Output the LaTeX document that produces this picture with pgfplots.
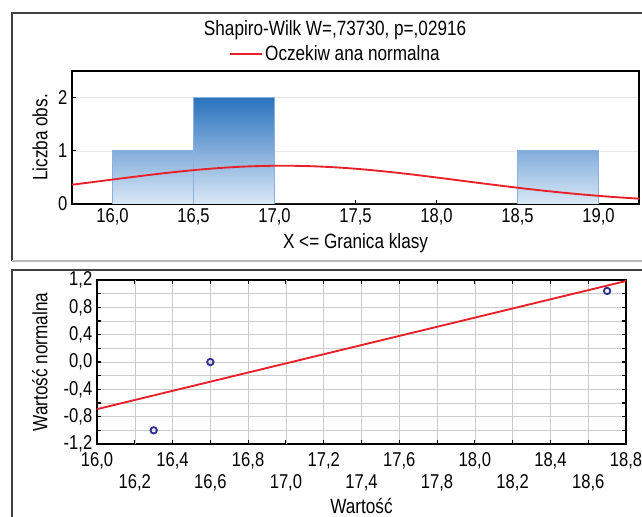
\documentclass[border=0pt]{standalone}
\usepackage{fontspec}
\setmainfont[FakeStretch=0.83]{Liberation Sans}
\usepackage{pgfplots}
\pgfplotsset{compat=1.18}

\definecolor{barTop}{HTML}{2A72BD}
\definecolor{barMid}{HTML}{6CA4DA}
\definecolor{barBot}{HTML}{DAE8F6}
\definecolor{barEdge}{HTML}{8AB0E0}
\definecolor{curveRed}{HTML}{E8202A}
\definecolor{pointBlue}{HTML}{2E3192}
\definecolor{frameGray}{HTML}{404040}

\pgfplotsset{
  stat/.style={
    scale only axis, anchor=south west,
    font=\fontsize{15.5}{18}\selectfont,
    tick label style={font=\fontsize{15}{18}\selectfont},
    /pgf/number format/assume math mode=true,
    /pgf/number format/use comma,
    tick align=inside,
    major tick length=3pt, minor tick length=3pt,
    tick style={black, line width=0.8pt},
    axis line style={black, line width=1pt},
  },
  onedec/.style={/pgf/number format/fixed, /pgf/number format/fixed zerofill,
    /pgf/number format/precision=1},
}

\begin{document}
\begin{tikzpicture}[x=0.75pt,y=0.75pt]
\useasboundingbox (0,0) rectangle (642,517);
% panel frames
\draw[frameGray, line width=0.9pt] (12,256) -- (12,504) -- (660,504);
\draw[gray!55, line width=1.6pt] (12,256) -- (660,256);
\draw[frameGray, line width=0.9pt] (12,-10) -- (12,247) -- (660,247);

% histogram with expected normal curve
\begin{axis}[stat,
  at={(54pt,234.75pt)},
  width=425.25pt, height=99.75pt,
  xmin=15.75, xmax=19.25, ymin=0, ymax=2.5,
  xtick={16,16.5,17,17.5,18,18.5,19},
  ytick={0,1,2},
  tick pos=left,
  xticklabel style={onedec},
  yticklabel style={/pgf/number format/fixed, /pgf/number format/precision=0},
  ymajorgrids, major grid style={gray!18},
  xlabel={X <= Granica klasy},
  ylabel={Liczba obs.},
  every axis x label/.style={at={(rel axis cs:0.5,-0.293)}, anchor=center},
  every axis y label/.style={at={(rel axis cs:-0.0564,0.5)}, anchor=center, rotate=90},
  every axis title shift=0pt,
  title={Shapiro-Wilk W=,73730, p=,02916},
  title style={at={(rel axis cs:0.464,1.31)}, anchor=center},
  legend style={at={(rel axis cs:0.4647,1.13)}, anchor=center, draw=none, fill=none,
    font=\fontsize{15.5}{18}\selectfont},
  legend image code/.code={\draw[#1] (0pt,0pt) -- (24pt,0pt);},
]
\addplot[ybar interval, draw=barEdge, line width=0.6pt,
  top color=barTop, middle color=barMid, bottom color=barBot, forget plot]
  coordinates {(16,1) (16.5,2) (17,0) (17.5,0) (18,0) (18.5,1) (19,0)};
\addplot[curveRed, line width=1.4pt, smooth] coordinates {
  (15.75,0.3620) (15.875,0.4104) (16.0,0.4596) (16.125,0.5081) (16.25,0.5546)
  (16.375,0.5978) (16.5,0.6362) (16.625,0.6685) (16.75,0.6936) (16.875,0.7105)
  (17.0,0.7187) (17.125,0.7178) (17.25,0.7078) (17.375,0.6892) (17.5,0.6626)
  (17.625,0.6289) (17.75,0.5895) (17.875,0.5455) (18.0,0.4985) (18.125,0.4497)
  (18.25,0.4006) (18.375,0.3524) (18.5,0.3060) (18.625,0.2624) (18.75,0.2222)
  (18.875,0.1858) (19.0,0.1534) (19.125,0.1250) (19.25,0.1006)
};
\addlegendentry{Oczekiw ana normalna}
\end{axis}

% normal probability plot
\begin{axis}[stat,
  at={(72.75pt,54.75pt)},
  width=396.75pt, height=123pt,
  xmin=16, xmax=18.8, ymin=-1.2, ymax=1.2,
  axis line style={black, line width=1.5pt},
  xtick={16.0,16.4,16.8,17.2,17.6,18.0,18.4,18.8},
  extra x ticks={16.2,16.6,17.0,17.4,17.8,18.2,18.6},
  extra x tick style={grid=major, xticklabel style={yshift=-16.5pt}},
  xticklabel style={onedec, yshift=-3pt},
  ytick={-1.2,-0.8,-0.4,0,0.4,0.8,1.2},
  minor ytick={-1.0,-0.6,-0.2,0.2,0.6,1.0},
  yticklabel style={onedec},
  grid=both, major grid style={gray!40}, minor grid style={gray!40},
  xlabel={Wartość},
  ylabel={Wartość normalna},
  every axis x label/.style={at={(rel axis cs:0.5,-0.378)}, anchor=center},
  every axis y label/.style={at={(rel axis cs:-0.1078,0.5)}, anchor=center, rotate=90},
]
\addplot[curveRed, line width=1.4pt] coordinates {(16.0,-0.69) (18.8,1.185)};
\addplot[only marks, mark=o, mark size=2.4pt, pointBlue, line width=1.4pt]
  coordinates {(16.3,-1.0) (16.6,0.0) (18.7,1.04)};
\end{axis}
\end{tikzpicture}
\end{document}
